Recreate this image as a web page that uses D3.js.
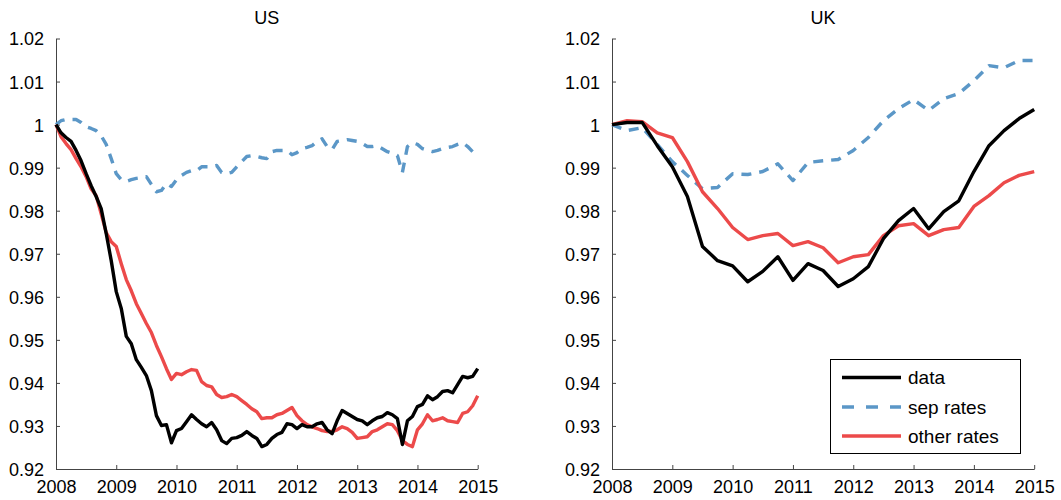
<!DOCTYPE html>
<html><head><meta charset="utf-8">
<script src="https://cdn.jsdelivr.net/npm/d3@7"></script>
<style>
body{margin:0;background:#fff;}
text{font-family:"Liberation Sans",Arial,Helvetica,sans-serif;}
</style></head>
<body><svg id="c" width="1061" height="500"></svg>
<script>
// ---- data ----
const panelTitles = ["US", "UK"];
const xTickLabels = [2008, 2009, 2010, 2011, 2012, 2013, 2014, 2015];
const yTickLabels = [0.92, 0.93, 0.94, 0.95, 0.96, 0.97, 0.98, 0.99, 1, 1.01, 1.02];
const seriesNames = ["data", "sep rates", "other rates"];

// US: monthly, Jan 2008 .. Jan 2015
const usStart = 2008, usPerYear = 12;
const usData = [1.0000,0.9981,0.9970,0.9961,0.9940,0.9916,0.9886,0.9858,0.9833,0.9805,0.9747,0.9684,
0.9612,0.9573,0.9508,0.9491,0.9454,0.9436,0.9417,0.9382,0.9324,0.9301,0.9303,0.9261,
0.9289,0.9294,0.9310,0.9326,0.9315,0.9305,0.9298,0.9308,0.9291,0.9266,0.9259,0.9271,
0.9273,0.9278,0.9287,0.9278,0.9271,0.9252,0.9257,0.9271,0.9280,0.9285,0.9305,0.9303,
0.9294,0.9303,0.9298,0.9298,0.9305,0.9308,0.9291,0.9282,0.9312,0.9336,0.9329,0.9322,
0.9315,0.9312,0.9303,0.9312,0.9319,0.9322,0.9331,0.9326,0.9317,0.9257,0.9312,0.9322,
0.9345,0.9350,0.9370,0.9361,0.9368,0.9380,0.9382,0.9377,0.9396,0.9415,0.9412,0.9415,
0.9433];
const usSep = [1.0000,1.0009,1.0012,1.0012,1.0012,1.0005,0.9995,0.9991,0.9986,0.9974,0.9954,0.9921,
0.9886,0.9872,0.9868,0.9872,0.9875,0.9877,0.9879,0.9861,0.9844,0.9847,0.9863,0.9856,
0.9872,0.9882,0.9889,0.9893,0.9893,0.9902,0.9902,0.9902,0.9905,0.9889,0.9886,0.9889,
0.9902,0.9914,0.9926,0.9928,0.9926,0.9923,0.9921,0.9937,0.9940,0.9940,0.9940,0.9930,
0.9935,0.9944,0.9947,0.9951,0.9961,0.9967,0.9949,0.9942,0.9961,0.9963,0.9965,0.9963,
0.9961,0.9956,0.9949,0.9949,0.9951,0.9944,0.9937,0.9933,0.9928,0.9889,0.9949,0.9958,
0.9954,0.9944,0.9940,0.9937,0.9940,0.9944,0.9947,0.9949,0.9954,0.9958,0.9949,0.9937,
0.9930];
const usOther = [1.0000,0.9972,0.9956,0.9942,0.9921,0.9902,0.9879,0.9851,0.9835,0.9793,0.9749,0.9728,
0.9717,0.9677,0.9640,0.9614,0.9584,0.9561,0.9538,0.9517,0.9487,0.9461,0.9433,0.9408,
0.9422,0.9419,0.9426,0.9431,0.9429,0.9403,0.9394,0.9391,0.9373,0.9366,0.9368,0.9373,
0.9368,0.9359,0.9350,0.9340,0.9333,0.9317,0.9319,0.9319,0.9326,0.9329,0.9336,0.9343,
0.9324,0.9312,0.9303,0.9298,0.9294,0.9289,0.9287,0.9287,0.9291,0.9298,0.9294,0.9285,
0.9271,0.9273,0.9275,0.9287,0.9291,0.9298,0.9305,0.9303,0.9289,0.9266,0.9257,0.9252,
0.9291,0.9305,0.9326,0.9312,0.9315,0.9319,0.9312,0.9310,0.9308,0.9329,0.9333,0.9347,
0.9370];

// UK: quarterly, 2008Q1 .. 2015Q1
const ukStart = 2008, ukPerYear = 4;
const ukData = [1.0000,1.0005,1.0005,0.9951,0.9902,0.9833,0.9717,0.9684,0.9672,0.9635,0.9659,0.9693,
0.9638,0.9677,0.9661,0.9624,0.9642,0.9670,0.9735,0.9777,0.9805,0.9758,0.9798,0.9823,
0.9891,0.9951,0.9986,1.0014,1.0035];
const ukSep = [1.0000,0.9986,0.9993,0.9954,0.9914,0.9882,0.9851,0.9854,0.9886,0.9884,0.9891,0.9909,
0.9870,0.9912,0.9916,0.9919,0.9940,0.9970,1.0009,1.0037,1.0058,1.0033,1.0060,1.0072,
1.0102,1.0137,1.0132,1.0149,1.0149];
const ukOther = [1.0000,1.0009,1.0007,0.9981,0.9970,0.9914,0.9844,0.9805,0.9761,0.9733,0.9742,0.9747,
0.9719,0.9728,0.9714,0.9679,0.9693,0.9698,0.9742,0.9765,0.9770,0.9742,0.9756,0.9761,
0.9810,0.9835,0.9865,0.9882,0.9891];

// ---- drawing ----
const colors = {"data":"#000000","sep rates":"#5b97c7","other rates":"#ec4a4a"};
const svg = d3.select("#c");
const plotTop = 38.5, plotBottom = 469;

const panels = [
  {title: panelTitles[0], x0: 56, x1: 477.7, start: usStart, per: usPerYear,
   series: {"data": usData, "sep rates": usSep, "other rates": usOther}},
  {title: panelTitles[1], x0: 612, x1: 1034.2, start: ukStart, per: ukPerYear,
   series: {"data": ukData, "sep rates": ukSep, "other rates": ukOther}, legend: true}
];

panels.forEach(p => {
  const x = d3.scaleLinear().domain([2008, 2015]).range([p.x0, p.x1]);
  const y = d3.scaleLinear().domain([0.92, 1.02]).range([plotBottom, plotTop]);
  const g = svg.append("g");

  // axes
  const xa = g.append("g").attr("transform", `translate(0,${plotBottom})`)
    .call(d3.axisBottom(x).tickValues(xTickLabels).tickFormat(d3.format("d"))
      .tickSizeInner(-4).tickSizeOuter(0).tickPadding(11));
  const ya = g.append("g").attr("transform", `translate(${p.x0},0)`)
    .call(d3.axisLeft(y).tickValues(yTickLabels).tickFormat(d => d === 1 ? "1" : d3.format(".2f")(d))
      .tickSizeInner(-4).tickSizeOuter(0).tickPadding(12));
  [xa, ya].forEach(a => {
    a.select(".domain").attr("stroke", "#444").attr("stroke-width", 1);
    a.selectAll(".tick line").attr("stroke", "#444");
    a.selectAll("text").attr("font-size", 18).attr("fill", "#000")
      .attr("font-family", "Liberation Sans, Arial, sans-serif");
  });
  ya.selectAll("text").attr("dy", "0.36em");
  xa.selectAll("text").attr("dy", "0.71em");

  // title
  g.append("text").attr("x", (p.x0 + p.x1) / 2).attr("y", 23.5)
    .attr("text-anchor", "middle").attr("font-size", 18).text(p.title);

  // lines
  const order = ["sep rates", "other rates", "data"];
  order.forEach(name => {
    const vals = p.series[name];
    const line = d3.line().x((d, i) => x(p.start + i / p.per)).y(d => y(d));
    const path = g.append("path").datum(vals).attr("d", line)
      .attr("fill", "none").attr("stroke", colors[name])
      .attr("stroke-width", 3.4).attr("stroke-linejoin", "round");
    if (name === "sep rates") path.attr("stroke-dasharray", "10,8");
  });

  if (p.legend) {
    const lg = g.append("g");
    lg.append("rect").attr("x", 830.5).attr("y", 359.5).attr("width", 190).attr("height", 94)
      .attr("fill", "#fff").attr("stroke", "#000").attr("stroke-width", 1);
    const rowsY = [377.5, 407, 436];
    seriesNames.forEach((name, i) => {
      const ly = rowsY[i];
      const l = lg.append("line").attr("x1", 842).attr("x2", 901).attr("y1", ly).attr("y2", ly)
        .attr("stroke", colors[name]).attr("stroke-width", 3.4);
      if (name === "sep rates") l.attr("stroke-dasharray", "12,12");
      lg.append("text").attr("x", 908).attr("y", ly).attr("dy", "0.36em")
        .attr("font-size", 19).text(name);
    });
  }
});
</script></body></html>
